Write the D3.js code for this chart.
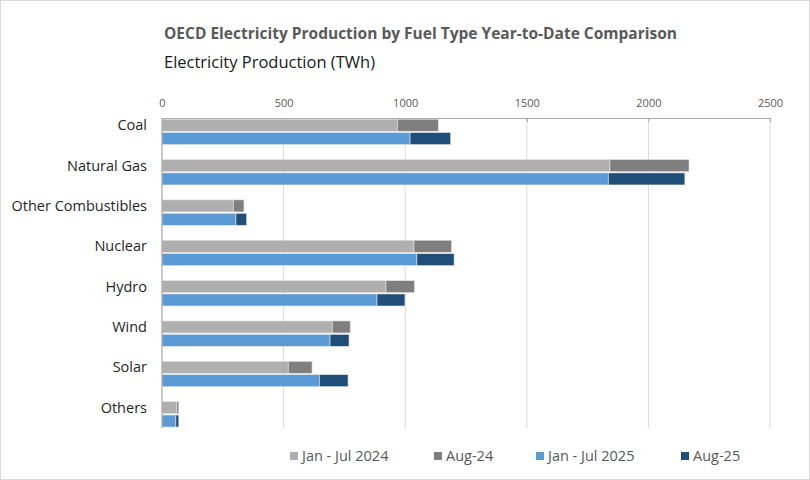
<html>
<head>
    <script src="https://d3js.org/d3.v7.min.js"></script>
    <style>
        body { margin: 0; background: #fff; }
        text { font-family: "Open Sans", Lato, sans-serif; }
    </style>
</head>
<body>

<script>
// data (TWh)
var categories = ["Coal", "Natural Gas", "Other Combustibles", "Nuclear", "Hydro", "Wind", "Solar", "Others"];
var janJul2024 = [968, 1842, 293, 1036, 921, 700, 519, 61];
var aug24 = [168, 325, 44, 155, 117, 74, 98, 8];
var janJul2025 = [1020, 1835, 304, 1048, 884, 691, 647, 57];
var aug25 = [167, 315, 44, 153, 115, 78, 118, 12];
var xTicks = [0, 500, 1000, 1500, 2000, 2500];
var seriesNames = ["Jan - Jul 2024", "Aug-24", "Jan - Jul 2025", "Aug-25"];
var colors = ["#afafaf", "#7f7f7f", "#5b9bd5", "#1f4e79"];

var w = 810, h = 480;
var plotTop = 118, plotBottom = 428;

var svg = d3.select("body").append("svg").attr("width", w).attr("height", h);

// outer frame
svg.append("rect").attr("x", 0.5).attr("y", 0.5).attr("width", w - 1).attr("height", h - 1)
    .attr("fill", "#fff").attr("stroke", "#d9d9d9");

// titles
svg.append("text").attr("x", 164).attr("y", 39).text("OECD Electricity Production by Fuel Type Year-to-Date Comparison")
    .attr("font-size", 16).attr("font-weight", "bold").attr("fill", "#595959")
    .attr("textLength", 513).attr("lengthAdjust", "spacingAndGlyphs");
svg.append("text").attr("x", 164).attr("y", 68).text("Electricity Production (TWh)")
    .attr("font-size", 16.5).attr("fill", "#1a1a1a")
    .attr("textLength", 211).attr("lengthAdjust", "spacingAndGlyphs");

var x = d3.scaleLinear().domain([0, 2500]).range([162, 770]);
var y = d3.scaleBand().domain(categories).range([111.6, 434.4]);
var yInner = d3.scaleBand().domain(["2024", "2025"]).range([7.6, 33]).paddingInner(0.1);

// gridlines
svg.append("g").selectAll("line").data(xTicks.slice(1)).enter().append("line")
    .attr("x1", function(d){ return x(d); }).attr("x2", function(d){ return x(d); })
    .attr("y1", plotTop).attr("y2", plotBottom)
    .attr("stroke", "#d9d9d9").attr("stroke-width", 1);

// top axis
var xAxis = d3.axisTop(x).tickValues(xTicks).tickSize(-4).tickPadding(11).tickFormat(d3.format("d"));
var xg = svg.append("g").attr("transform", "translate(0," + plotTop + ")").call(xAxis);
xg.select(".domain").attr("stroke", "#a6a6a6");
xg.selectAll(".tick line").attr("stroke", "#a6a6a6");
xg.selectAll(".tick text").attr("font-size", 11).attr("fill", "#595959")
    .attr("font-family", "'Open Sans', Lato, sans-serif");

// stacked bars per year
var rows2024 = categories.map(function(c, i){ return {cat: c, a: janJul2024[i], b: aug24[i]}; });
var rows2025 = categories.map(function(c, i){ return {cat: c, a: janJul2025[i], b: aug25[i]}; });
var stack = d3.stack().keys(["a", "b"]);

function drawYear(rows, key, cols) {
    var layers = stack(rows);
    svg.append("g").selectAll("g").data(layers).enter().append("g")
        .attr("fill", function(d, i){ return cols[i]; })
        .selectAll("rect").data(function(d){ return d; }).enter().append("rect")
        .attr("x", function(d){ return x(d[0]); })
        .attr("width", function(d){ return x(d[1]) - x(d[0]); })
        .attr("y", function(d){ return y(d.data.cat) + yInner(key); })
        .attr("height", yInner.bandwidth())
        .attr("stroke", "#e6e6e6").attr("stroke-width", 0.6);
}
drawYear(rows2024, "2024", [colors[0], colors[1]]);
drawYear(rows2025, "2025", [colors[2], colors[3]]);

// left axis line
svg.append("line").attr("x1", 162).attr("x2", 162).attr("y1", plotTop).attr("y2", plotBottom)
    .attr("stroke", "#a6a6a6").attr("stroke-width", 1.2);

// category labels
svg.append("g").selectAll("text").data(categories).enter().append("text")
    .attr("x", 147)
    .attr("y", function(d){ return y(d) + yInner("2024") + yInner.bandwidth() / 2; })
    .attr("dy", "0.35em").attr("text-anchor", "end")
    .attr("font-size", 14.5).attr("fill", "#262626")
    .text(function(d){ return d; });

// legend
var legendX = [290, 434, 536, 681];
var lg = svg.append("g").selectAll("g").data(seriesNames).enter().append("g")
    .attr("transform", function(d, i){ return "translate(" + legendX[i] + ",452)"; });
lg.append("rect").attr("width", 8).attr("height", 8).attr("fill", function(d, i){ return colors[i]; });
lg.append("text").attr("x", 12).attr("y", 4).attr("dy", "0.35em")
    .attr("font-size", 14.5).attr("fill", "#595959").text(function(d){ return d; });
</script>

</body>
</html>
